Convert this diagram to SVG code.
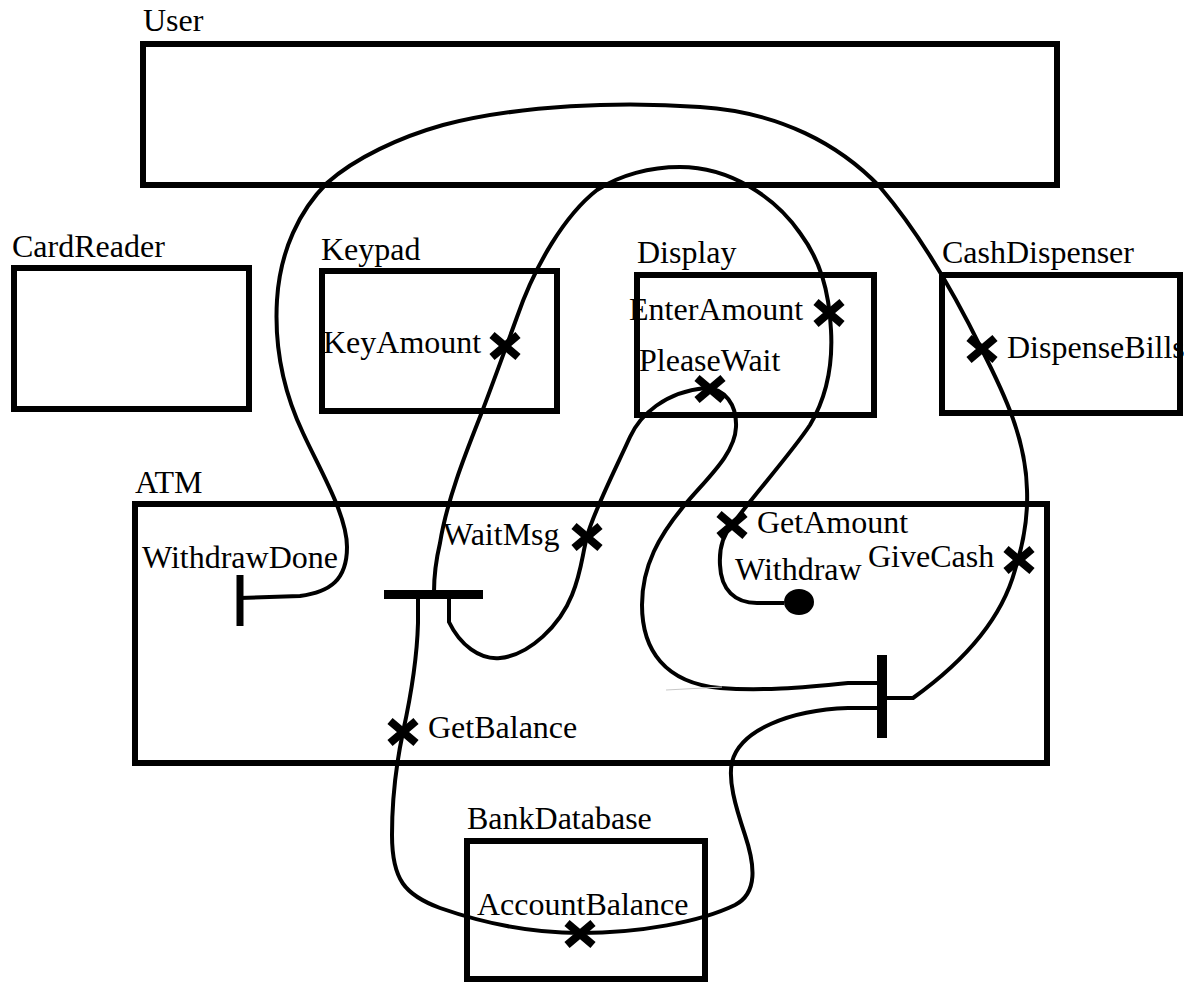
<svg xmlns="http://www.w3.org/2000/svg" width="1184" height="982" viewBox="0 0 1184 982">
  <style>
    .box { fill: none; stroke: #000; stroke-width: 6; }
    .lbl { font-family: "Liberation Serif", "Times New Roman", serif; font-size: 32px; fill: #000; }
    .path { fill: none; stroke: #000; stroke-width: 4; }
    .bar { fill: #000; }
  </style>
  <defs>
    <path id="resp" d="M-13,-11 L13,11 M-13,11 L13,-11" fill="none" stroke="#000" stroke-width="8"/>
  </defs>
  <rect width="1184" height="982" fill="#fff"/>

  <!-- components -->
  <g id="user">
    <text class="lbl" x="143" y="31">User</text>
    <rect class="box" x="143" y="44" width="914" height="141"/>
  </g>
  <g id="cardreader">
    <text class="lbl" x="12" y="257">CardReader</text>
    <rect class="box" x="14" y="268" width="235" height="141"/>
  </g>
  <g id="keypad">
    <text class="lbl" x="321" y="260">Keypad</text>
    <rect class="box" x="322" y="271" width="235" height="140"/>
    <text class="lbl" x="323" y="353">KeyAmount</text>
  </g>
  <g id="display">
    <text class="lbl" x="637" y="263">Display</text>
    <rect class="box" x="637" y="275" width="237" height="140"/>
    <text class="lbl" x="629" y="320">EnterAmount</text>
    <text class="lbl" x="639" y="371">PleaseWait</text>
  </g>
  <g id="cashdispenser">
    <text class="lbl" x="942" y="263">CashDispenser</text>
    <text class="lbl" x="1007" y="358">DispenseBills</text>
    <rect class="box" x="942" y="275" width="238" height="138"/>
  </g>
  <g id="atm">
    <text class="lbl" x="135" y="493">ATM</text>
    <rect class="box" x="135" y="504" width="912" height="259"/>
    <text class="lbl" x="142" y="568">WithdrawDone</text>
    <text class="lbl" x="443" y="545">WaitMsg</text>
    <text class="lbl" x="757" y="533">GetAmount</text>
    <text class="lbl" x="735" y="580">Withdraw</text>
    <text class="lbl" x="868" y="567">GiveCash</text>
    <text class="lbl" x="428" y="738">GetBalance</text>
  </g>
  <g id="bankdatabase">
    <text class="lbl" x="467" y="829">BankDatabase</text>
    <rect class="box" x="467" y="841" width="238" height="138"/>
    <text class="lbl" x="477" y="915">AccountBalance</text>
  </g>

  <!-- use case map paths -->
  <g id="connectors">
    <!-- Withdraw start -> GetAmount -> EnterAmount -> KeyAmount -> fork -->
    <path class="path" d="M 784 603 L 757 603 C 735 603, 721 590, 720 565 C 719 548, 723 535, 732 525 C 752 497, 790 455, 810 425 C 826 398, 833 365, 831 330 C 829 290, 820 260, 800 233 C 775 197, 730 167, 680 167 C 650 167, 620 175, 597 190 C 565 215, 535 265, 517 317 C 505 350, 493 383, 480 417 C 465 455, 447 500, 440 543 C 436 560, 434 575, 434 592"/>
    <!-- fork right branch: WaitMsg -> PleaseWait -> join -->
    <path class="path" d="M 449 597 L 449 622 C 460 645, 480 660, 500 658 C 530 655, 560 625, 572 595 C 582 570, 582 555, 587 537 C 592 515, 615 470, 630 437 C 640 415, 665 392, 705 388 C 725 388, 737 405, 736 427 C 735 455, 705 480, 683 507 C 660 535, 642 565, 642 605 C 642 650, 665 683, 720 688 C 760 691, 800 688, 848 683 L 880 683"/>
    <!-- fork left branch: GetBalance -> AccountBalance -> join -->
    <path class="path" d="M 418 597 L 418 623 C 417 660, 410 700, 403 732 C 396 765, 392 800, 392 835 C 392 880, 405 895, 440 908 C 480 922, 530 933, 580 933 C 640 933, 700 922, 735 905 C 758 893, 755 865, 745 835 C 735 805, 728 780, 732 762 C 740 730, 790 710, 848 708 L 880 708"/>
    <!-- join -> GiveCash -> DispenseBills -> WithdrawDone -->
    <path class="path" d="M 884 698 L 913 698 C 955 668, 1000 625, 1015 570 C 1023 545, 1028 515, 1027 490 C 1026 440, 1005 395, 982 350 C 960 305, 925 240, 880 187 C 840 145, 780 112, 700 107 C 620 101, 520 105, 443 125 C 400 137, 355 158, 327 183 C 300 210, 280 250, 277 300 C 274 350, 285 395, 303 433 C 320 470, 347 515, 347 547 C 347 580, 330 592, 300 596 L 240 598"/>
    <path d="M 666 690 L 722 687" fill="none" stroke="#c8c8c8" stroke-width="1.2"/>

    <!-- start point, fork, join, end bar -->
    <ellipse cx="799" cy="602" rx="15" ry="13" class="bar"/>
    <rect class="bar" x="384" y="590" width="99" height="9"/>
    <rect class="bar" x="877" y="655" width="10" height="83"/>
    <line x1="240" y1="575" x2="240" y2="626" stroke="#000" stroke-width="7"/>

    <!-- responsibilities -->
    <use href="#resp" x="505" y="346"/>
    <use href="#resp" x="829" y="313"/>
    <use href="#resp" x="710" y="389"/>
    <use href="#resp" x="982" y="349"/>
    <use href="#resp" x="587" y="537"/>
    <use href="#resp" x="732" y="525"/>
    <use href="#resp" x="1019" y="560"/>
    <use href="#resp" x="403" y="732"/>
    <use href="#resp" x="580" y="934"/>
  </g>
</svg>
